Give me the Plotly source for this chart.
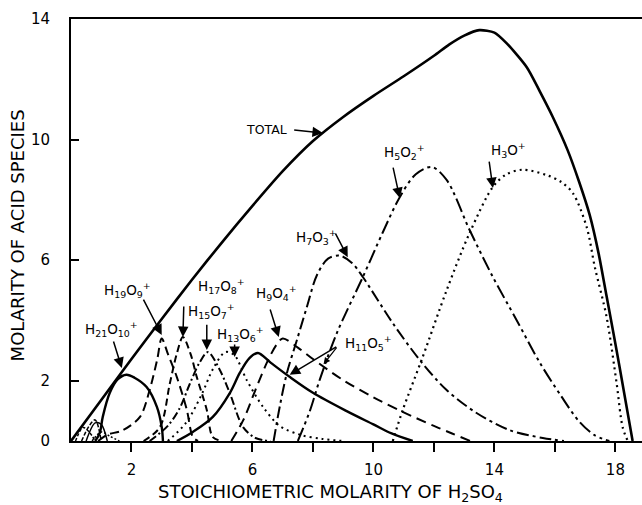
import plotly.graph_objects as go

# ---------------- data ----------------
total_x = [0, 1, 2, 3, 4, 5, 6, 7, 8, 9, 10, 11, 12, 12.5, 13, 13.5, 14.0, 14.4, 15.07, 15.5, 15.93, 16.42, 16.8, 17.15, 17.45, 17.71, 17.95, 18.14, 18.35, 18.57]
total_y = [0, 1.36, 2.72, 4.05, 5.35, 6.6, 7.8, 8.95, 9.95, 10.75, 11.45, 12.1, 12.78, 13.15, 13.45, 13.63, 13.55, 13.2, 12.4, 11.6, 10.75, 9.65, 8.6, 7.5, 6.2, 4.8, 3.5, 2.45, 1.25, 0]

h3o_x = [10.64, 10.97, 11.63, 12.42, 13.18, 13.95, 14.4, 14.94, 15.73, 16.2, 16.59, 17.05, 17.32, 17.71, 18.04, 18.24, 18.41]
h3o_y = [0, 1.03, 2.79, 5.0, 6.9, 8.43, 8.85, 9.0, 8.82, 8.6, 8.23, 7.1, 5.77, 4.11, 1.92, 0.46, 0]

h5o2_x = [7.5, 7.9, 8.22, 8.79, 9.65, 10.3, 10.87, 11.4, 11.93, 12.42, 13.18, 13.95, 14.74, 15.5, 16.2, 16.8, 17.3, 17.8]
h5o2_y = [0, 1.0, 2.02, 3.58, 5.44, 6.9, 8.09, 8.85, 9.09, 8.66, 7.0, 5.44, 4.0, 2.6, 1.5, 0.65, 0.2, 0]

h7o3_x = [6.7, 6.9, 7.14, 7.47, 7.8, 8.13, 8.5, 8.89, 9.3, 9.65, 10.64, 11.53, 12.42, 13.41, 14.5, 15.6, 16.3]
h7o3_y = [0, 1.13, 2.26, 3.35, 4.45, 5.5, 6.05, 6.15, 5.9, 5.44, 3.91, 2.69, 1.69, 0.93, 0.36, 0.1, 0]

h9o4_x = [5.3, 5.7, 6.1, 6.5, 6.8, 7.0, 7.5, 8.0, 9.0, 10.0, 11.0, 12.0, 12.6, 13.2]
h9o4_y = [0, 0.7, 1.7, 2.65, 3.2, 3.4, 3.1, 2.72, 2.02, 1.45, 0.95, 0.5, 0.25, 0]

h11o5_x = [3.5, 4.03, 4.69, 5.25, 5.58, 5.9, 6.18, 6.6, 7.24, 8.0, 9.1, 10.0, 10.6, 11.3]
h11o5_y = [0, 0.3, 0.8, 1.59, 2.26, 2.75, 2.92, 2.6, 2.12, 1.6, 1.0, 0.55, 0.25, 0]

h13o6_x = [3.2, 3.8, 4.3, 4.7, 5.1, 5.4, 5.81, 6.35, 6.9, 7.6, 8.3, 9.0]
h13o6_y = [0, 0.6, 1.5, 2.4, 2.95, 2.85, 2.02, 1.13, 0.5, 0.2, 0.07, 0]

h15o7_x = [2.6, 3.2, 3.6, 3.93, 4.25, 4.53, 4.9, 5.25, 5.69, 6.1, 6.6]
h15o7_y = [0, 0.5, 1.1, 1.9, 2.6, 2.95, 2.4, 1.59, 0.46, 0.1, 0]

h17o8_x = [2.4, 2.94, 3.27, 3.5, 3.7, 3.95, 4.16, 4.49, 4.69, 5.0]
h17o8_y = [0, 0.46, 1.92, 2.9, 3.45, 2.9, 2.12, 1.03, 0.13, 0]

h19o9_x = [0.9, 1.18, 1.72, 2.28, 2.6, 2.85, 3.0, 3.2, 3.5, 3.83, 4.03, 4.2]
h19o9_y = [0, 0.2, 0.36, 0.8, 1.69, 2.7, 3.4, 2.9, 2.12, 1.03, 0.13, 0]

h21o10_x = [0.8, 0.95, 1.05, 1.28, 1.55, 1.83, 2.1, 2.5, 2.84, 3.0, 3.04]
h21o10_y = [0, 0.26, 0.8, 1.59, 2.05, 2.2, 2.1, 1.79, 1.13, 0.46, 0]

small1_x = [0.15, 0.4, 0.6, 0.8]
small1_y = [0, 0.45, 0.3, 0]
small2_x = [0.35, 0.6, 0.8, 1.0]
small2_y = [0, 0.5, 0.7, 0]
small3_x = [0.5, 0.8, 1.0, 1.2]
small3_y = [0, 0.6, 0.55, 0]
small4_x = [0.7, 1.0, 1.3, 1.6]
small4_y = [0, 0.3, 0.15, 0]

x_tickvals = [2, 4, 6, 8, 10, 12, 14, 16, 18]
x_ticktext = ["2", "", "6", "", "10", "", "14", "", "18"]
y_tickvals = [0, 2, 6, 10, 14]
y_ticktext = ["0", "2", "6", "10", "14"]

# ---------------- figure ----------------
fig = go.Figure()

def add(x, y, dash, width=2.0, smoothing=0.9):
    fig.add_trace(go.Scatter(x=x, y=y, mode="lines",
                             line=dict(color="black", width=width, dash=dash,
                                       shape="spline", smoothing=smoothing),
                             hoverinfo="skip", showlegend=False))

add(total_x, total_y, "solid", 2.6, 0.7)
add(h3o_x, h3o_y, "2px,4px", 2.2)
add(h5o2_x, h5o2_y, "14px,4px,3px,4px,3px,4px", 2.0)
add(h7o3_x, h7o3_y, "12px,4px,3px,4px", 2.0)
add(h9o4_x, h9o4_y, "10px,6px", 2.0)
add(h11o5_x, h11o5_y, "solid", 2.4)
add(h13o6_x, h13o6_y, "2px,4px", 2.0)
add(h15o7_x, h15o7_y, "8px,3px,2px,3px", 2.0)
add(h17o8_x, h17o8_y, "7px,4px", 2.0)
add(h19o9_x, h19o9_y, "9px,5px", 2.0)
add(h21o10_x, h21o10_y, "solid", 2.4)
add(small1_x, small1_y, "3px,2px", 1.5)
add(small2_x, small2_y, "4px,2px", 1.5)
add(small3_x, small3_y, "solid", 1.5)
add(small4_x, small4_y, "2px,2px", 1.5)

FONT = "DejaVu Sans, Liberation Sans, Arial"

labels = [
    # text, text x, text y, tail x, tail y, tip x, tip y
    ("TOTAL", 6.47, 10.32, 7.33, 10.32, 8.33, 10.22),
    ("H<sub>5</sub>O<sub>2</sub><sup>+</sup>", 11.04, 9.6, 10.64, 9.12, 10.87, 8.06),
    ("H<sub>3</sub>O<sup>+</sup>", 14.45, 9.65, 13.82, 9.32, 13.95, 8.39),
    ("H<sub>7</sub>O<sub>3</sub><sup>+</sup>", 8.13, 6.77, 8.72, 6.93, 9.15, 6.1),
    ("H<sub>9</sub>O<sub>4</sub><sup>+</sup>", 6.81, 4.91, 6.57, 4.41, 6.87, 3.45),
    ("H<sub>11</sub>O<sub>5</sub><sup>+</sup>", 9.85, 3.25, 8.82, 3.15, 7.23, 2.2),
    ("H<sub>13</sub>O<sub>6</sub><sup>+</sup>", 5.62, 3.55, 5.41, 3.25, 5.41, 2.79),
    ("H<sub>15</sub>O<sub>7</sub><sup>+</sup>", 4.66, 4.31, 4.49, 3.91, 4.49, 3.02),
    ("H<sub>17</sub>O<sub>8</sub><sup>+</sup>", 4.99, 5.14, 3.73, 4.51, 3.70, 3.45),
    ("H<sub>19</sub>O<sub>9</sub><sup>+</sup>", 1.88, 5.02, 2.37, 4.74, 3.0, 3.52),
    ("H<sub>21</sub>O<sub>10</sub><sup>+</sup>", 1.35, 3.72, 1.39, 3.35, 1.68, 2.42),
]

ann = []
for text, tx, ty, ax, ay, px, py in labels:
    ann.append(dict(x=tx, y=ty, xref="x", yref="y", text=text, showarrow=False,
                    font=dict(family=FONT, size=13.5 if text != "TOTAL" else 12.5, color="black"),
                    xanchor="center", yanchor="middle"))
    ann.append(dict(x=px, y=py, xref="x", yref="y", ax=ax, ay=ay, axref="x", ayref="y",
                    text="", showarrow=True, arrowhead=2, arrowsize=1.4,
                    arrowwidth=1.5, arrowcolor="black"))

# second small arrow of the H11O5+ label
ann.append(dict(x=8.35, y=2.55, xref="x", yref="y", ax=8.82, ay=3.15, axref="x", ayref="y",
                text="", showarrow=True, arrowhead=2, arrowsize=1.1,
                arrowwidth=1.2, arrowcolor="black"))

# axis titles
ann.append(dict(x=-0.093, y=0.487, xref="paper", yref="paper", textangle=-90,
                text="MOLARITY OF ACID SPECIES", showarrow=False,
                font=dict(family=FONT, size=18, color="black"),
                xanchor="center", yanchor="middle"))
ann.append(dict(x=0.455, y=-0.123, xref="paper", yref="paper",
                text="STOICHIOMETRIC MOLARITY OF H<sub>2</sub>SO<sub>4</sub>", showarrow=False,
                font=dict(family=FONT, size=18, color="black"),
                xanchor="center", yanchor="middle"))

fig.update_layout(
    width=642, height=505,
    margin=dict(l=71, r=0, t=19, b=64, pad=0),
    paper_bgcolor="white", plot_bgcolor="white",
    annotations=ann,
    xaxis=dict(range=[0, 18.88], showgrid=False, zeroline=False,
               showline=True, linecolor="black", linewidth=2, mirror=True,
               tickmode="array", tickvals=x_tickvals, ticktext=x_ticktext,
               ticks="outside", ticklen=9, tickwidth=2, tickcolor="black",
               ticklabelstandoff=5,
               tickfont=dict(family=FONT, size=15, color="black")),
    yaxis=dict(range=[0, 14], showgrid=False, zeroline=False,
               showline=True, linecolor="black", linewidth=2,
               tickmode="array", tickvals=y_tickvals, ticktext=y_ticktext,
               ticks="inside", ticklen=8, tickwidth=2, tickcolor="black",
               ticklabelstandoff=16,
               tickfont=dict(family=FONT, size=15, color="black")),
)

fig.write_html("out.html")
